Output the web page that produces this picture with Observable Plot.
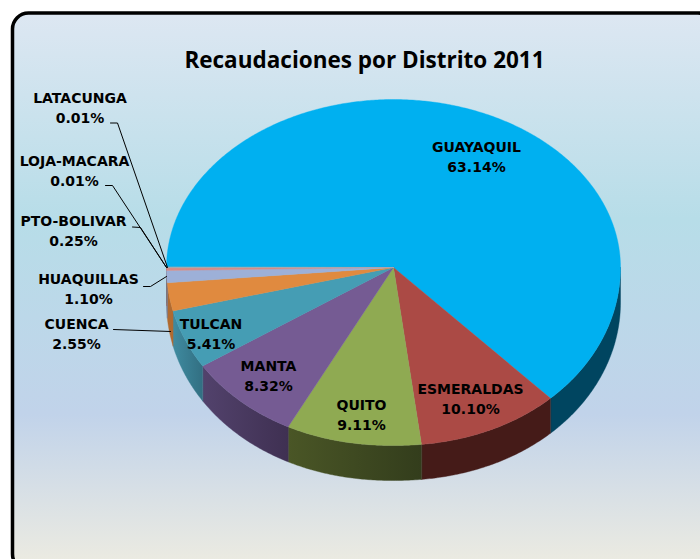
<!DOCTYPE html>
<html>
<head>
<meta charset="utf-8">
<script src="https://cdn.jsdelivr.net/npm/d3@7"></script>
<script src="https://cdn.jsdelivr.net/npm/@observablehq/plot@0.6"></script>
<style>html,body{margin:0;padding:0;background:#fff}svg{display:block}</style>
</head>
<body>
<div id="chart"></div>
<script>
const title = "Recaudaciones por Distrito 2011";
const districts = ["GUAYAQUIL","ESMERALDAS","QUITO","MANTA","TULCAN","CUENCA","HUAQUILLAS","PTO-BOLIVAR","LOJA-MACARA","LATACUNGA"];
const shares = [63.14,10.10,9.11,8.32,5.41,2.55,1.10,0.25,0.01,0.01];
const topColors = ["#00b0f0","#ab4a45","#8faa52","#755b93","#459db4","#e08a3f","#9db0d8","#d88a87","#b5c98d","#a99bc0"];
const sideColors = ["#004560","#451b18","url(#sq)","url(#sm)","url(#st)","#b06a30","#6a7a9c","#9a6260","#7f8c62","#776c88"];

// Layout (pixels)
const W = 700, H = 559;
const cx = 393, cy = 267, rx = 227, ry = 178, ryBack = 168, depth = 35;
// label anchor points [x, y] for each district, same order as districts
const labelAt = [[476,157],[470,399.5],[361,415],[268,376],[210.5,334.5],[76,334],[88,289],[73,231],[74,171],[79.5,108]];
const leaders = [
  null,null,null,null,null,
  [[113,329],[170,331]],
  [[143,286],[150,286],[166,276]],
  [[132,226.5],[140,227],[166,267]],
  [[105,185],[112,185],[166,267]],
  [[110,122.5],[117,122.5],[167,267]]
];

// Scales: unit-circle pie coordinates mapped on the page
const xScale = {type:"linear", domain:[-cx/rx,(W-cx)/rx], range:[0,W]};
const yScale = {type:"linear", domain:[-cy/ry,(H-cy)/ry], range:[0,H]};
const ux = px => (px-cx)/rx, uy = py => (py-cy)/ry;
const dz = depth/ry;

// slices run clockwise from 9 o'clock; angle measured from 12 o'clock
let acc = 0;
const total = d3.sum(shares);
const slices = districts.map((name,i)=>{
  const a0 = 270 + acc/total*360; acc += shares[i];
  const a1 = 270 + acc/total*360;
  return {name,share:shares[i],a0,a1,top:topColors[i],side:sideColors[i]};
});
// the far half of the disc is foreshortened more; the near half bulges slightly
const pt = (deg,off=0)=>{
  const r=deg*Math.PI/180, c=Math.cos(r), s=Math.sin(r);
  const x = c>0 ? s : Math.sign(s)*Math.pow(Math.abs(s),0.95);
  return {x, y:-c*(c>0?ryBack/ry:1)+off};
};
const arc = (a0,a1,off=0)=>{
  const n=Math.max(2,Math.ceil((a1-a0)/0.5)),o=[];
  for(let k=0;k<=n;k++)o.push(pt(a0+(a1-a0)*k/n,off));
  return o;
};
const topPoly = s => [{x:0,y:0},...arc(s.a0,s.a1)];
// a0,a1 lie in [270,630]; the front-facing wall is [450,630]
function sidePoly(s){
  const a=Math.max(s.a0,450), b=Math.min(s.a1,630);
  if(b<=a)return null;
  return [...arc(a,b),...arc(a,b,dz).reverse()];
}

const gradient = (id,stops,dir)=>`<linearGradient id="${id}" ${dir}>${stops.map(([o,c])=>`<stop offset="${o}" stop-color="${c}"/>`).join("")}</linearGradient>`;
const defsMark = ()=>{
  const g=document.createElementNS("http://www.w3.org/2000/svg","defs");
  const h='x1="0" y1="0" x2="1" y2="0"', v='x1="0" y1="0" x2="0" y2="1"';
  g.innerHTML=
    gradient("bg",[[0,"#dde7f2"],[0.37,"#b7dde8"],[0.72,"#c1d3ea"],[1,"#eeece1"]],v)+
    gradient("sq",[[0,"#4a5626"],[1,"#333d1c"]],h)+
    gradient("sm",[[0,"#52426c"],[1,"#3f3052"]],h)+
    gradient("st",[[0,"#3f8ba0"],[1,"#326f82"]],h);
  return g;
};

const lineText = slices.map((s,i)=>({
  text:`${s.name}\n${s.share.toFixed(2)}%`,
  x:ux(labelAt[i][0]), y:uy(labelAt[i][1]-2)
}));

const plot = Plot.plot({
  width:W, height:H, margin:0,
  x:{...xScale, axis:null},
  y:{...yScale, axis:null},
  style:{background:"transparent",fontFamily:"'DejaVu Sans',sans-serif"},
  marks:[
    defsMark,
    Plot.rect([{x1:ux(12.5),x2:ux(714),y1:uy(13),y2:uy(570)}],{
      x1:"x1",x2:"x2",y1:"y1",y2:"y2",fill:"url(#bg)",stroke:"#000",strokeWidth:3.5,rx:16
    }),
    ...slices.map(s=>{
      const p=sidePoly(s);
      return p?Plot.line(p,{x:"x",y:"y",fill:s.side,stroke:s.side,strokeWidth:0.4,curve:"linear-closed"}):null;
    }),
    ...slices.map(s=>Plot.line(topPoly(s),{x:"x",y:"y",fill:s.top,stroke:s.top,strokeWidth:0.4,curve:"linear-closed"})),
    ...leaders.filter(Boolean).map(l=>Plot.line(l.map(([a,b])=>({x:ux(a),y:uy(b)})),{x:"x",y:"y",stroke:"#000",strokeWidth:1,curve:"linear"})),
    Plot.text(lineText,{x:"x",y:"y",text:"text",fill:"#000",fontWeight:"bold",fontSize:14,lineHeight:1.42,lineAnchor:"middle",textAnchor:"middle"}),
    Plot.text([title],{x:ux(364),y:uy(60),text:d=>d,fill:"#000",fontWeight:"bold",fontSize:22.5,fontFamily:"'Open Sans',sans-serif",textAnchor:"middle",lineAnchor:"middle"})
  ]
});
document.getElementById("chart").append(plot);
</script>
</body>
</html>
